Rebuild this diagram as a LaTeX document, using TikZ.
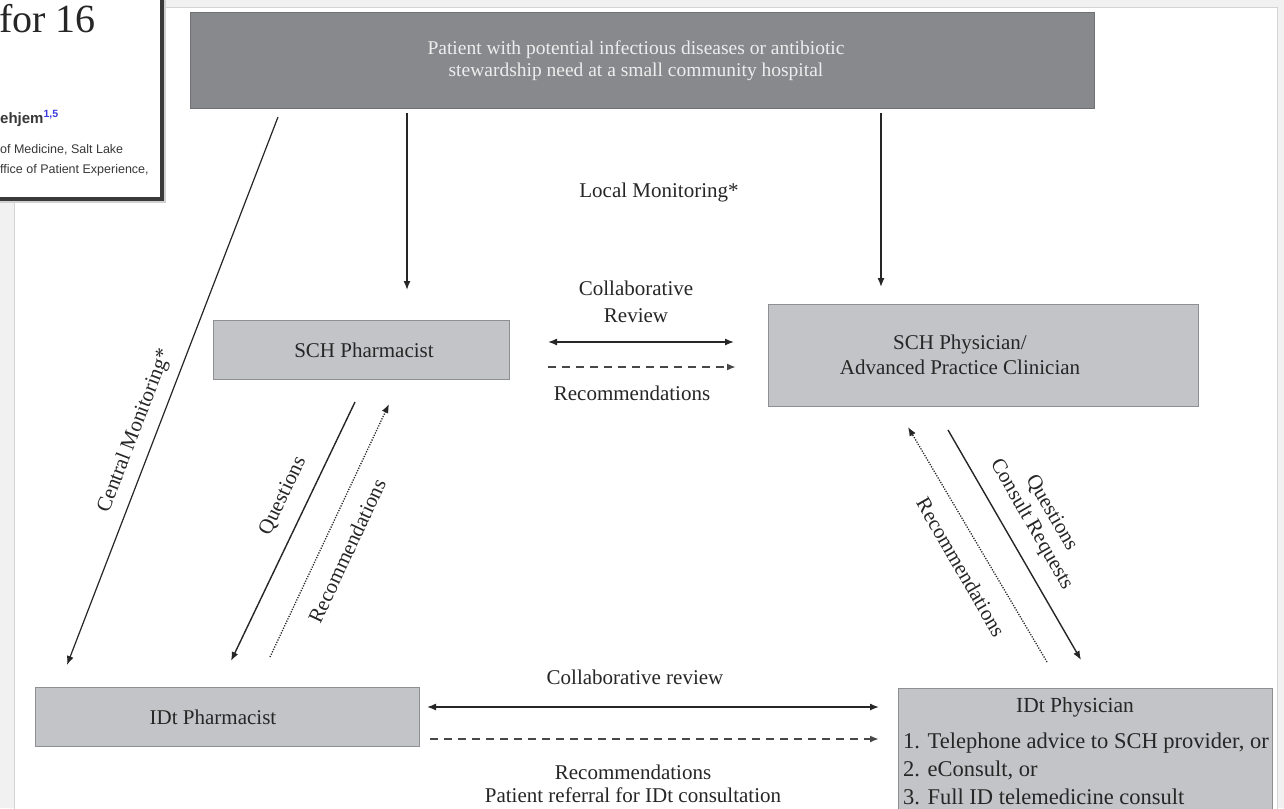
\documentclass[tikz,border=0pt]{standalone}
\usepackage{fontspec}
\setmainfont{Liberation Serif}
\setsansfont{Liberation Sans}
\usetikzlibrary{arrows.meta}
\definecolor{ink}{HTML}{262626}
\definecolor{darkbox}{HTML}{88898D}
\definecolor{darkedge}{HTML}{707175}
\definecolor{toptxt}{HTML}{EDEDED}
\definecolor{lightbox}{HTML}{C3C4C7}
\definecolor{boxedge}{HTML}{8E8F92}
\definecolor{pageout}{HTML}{F1F1F1}
\definecolor{pageedge}{HTML}{D4D4D4}
\definecolor{popedge}{HTML}{3A3A3A}
\definecolor{poptxt}{HTML}{383838}
\definecolor{supblue}{HTML}{3B3BE0}
\begin{document}
\begin{tikzpicture}[x=1pt,y=-1pt,
  txt/.style={font=\fontsize{21}{26}\selectfont, text=ink, inner sep=0pt, align=center},
  graybox/.style={draw=boxedge, line width=1pt, fill=lightbox, inner sep=0pt},
  tip/.tip={Latex[length=9pt,width=7pt]},
  arr/.style={draw=ink, line width=1.4pt, -tip},
  darr/.style={draw=ink, line width=1.4pt, tip-tip},
  dotarr/.style={draw=ink, line width=1.3pt, dash pattern=on 1.2pt off 1.4pt, -tip},
  dasharr/.style={draw=ink!85, line width=2pt, dash pattern=on 8pt off 6pt, -tip},
  poptext/.style={anchor=base west, inner sep=0pt, text=poptxt},
]
\useasboundingbox (0,0) rectangle (1284,808);
\clip (0,0) rectangle (1284,808);
% page
\fill[pageout] (0,0) rectangle (1284,808);
\fill[white] (14,8) rectangle (1277,820);
\draw[pageedge, line width=1pt] (14,820) -- (14,8) -- (1277,8) -- (1277,820);

% top box
\node[draw=darkedge, fill=darkbox, anchor=north west, minimum width=904, minimum height=96, inner sep=0pt] (top) at (190,12) {};
\node[txt, text=toptxt, font=\fontsize{19.5}{22}\selectfont] (toptext) at (636,61) {Patient with potential infectious diseases or antibiotic\\stewardship need at a small community hospital};

% boxes
\node[graybox, anchor=north west, minimum width=296, minimum height=59] (sp) at (213,320) {};
\node[txt] (sptext) at (364,350) {SCH Pharmacist};
\node[graybox, anchor=north west, minimum width=430, minimum height=102] (sphy) at (768,304) {};
\node[txt, font=\fontsize{21}{25}\selectfont] (sphytext) at (960,355) {SCH Physician/\\Advanced Practice Clinician};
\node[graybox, anchor=north west, minimum width=384, minimum height=59] (ip) at (35,687) {};
\node[txt] (iptext) at (213,717) {IDt Pharmacist};
\node[graybox, anchor=north west, minimum width=374, minimum height=140] (iphy) at (898,688) {};
\node[txt, font=\fontsize{21.5}{26}\selectfont] (iphytitle) at (1075,707) {IDt Physician};
\node[txt, align=left, anchor=west, font=\fontsize{22.5}{28}\selectfont] (iphylist) at (903,769) {1. Telephone advice to SCH provider, or\\2. eConsult, or\\3. Full ID telemedicine consult};

% labels
\node[txt] (local) at (659,192) {Local Monitoring*};
\node[txt, font=\fontsize{21}{27}\selectfont] (collab1) at (636,302) {Collaborative\\Review};
\node[txt] (rec1) at (632,393) {Recommendations};
\node[txt] (collab2) at (635,677) {Collaborative review};
\node[txt, font=\fontsize{21}{23}\selectfont] (rec2) at (633,784) {Recommendations\\Patient referral for IDt consultation};
\node[txt, rotate=69] (central) at (135,431) {Central Monitoring*};
\node[txt, rotate=64.5] (qleft) at (283,496) {Questions};
\node[txt, rotate=65] (rleft) at (347,551) {Recommendations};
\node[txt, rotate=-60, font=\fontsize{21}{23}\selectfont] (qright) at (1041,519) {Questions\\Consult Requests};
\node[txt, rotate=-60] (rright) at (961,567) {Recommendations};

% connector end points
\coordinate (a1s) at (407,113); \coordinate (a1e) at (407,290);
\coordinate (a2s) at (881,113); \coordinate (a2e) at (881,287);
\coordinate (cms) at (278,117); \coordinate (cme) at (67,665);
\coordinate (qls) at (355,402); \coordinate (qle) at (231,661);
\coordinate (rls) at (270,657); \coordinate (rle) at (389,404);
\coordinate (rrs) at (1047,662); \coordinate (rre) at (908,427);
\coordinate (qrs) at (948,430); \coordinate (qre) at (1081,660);
\coordinate (c1s) at (548,342); \coordinate (c1e) at (734,342);
\coordinate (d1s) at (548,367); \coordinate (d1e) at (736,367);
\coordinate (c2s) at (427,707); \coordinate (c2e) at (879,707);
\coordinate (d2s) at (430,739); \coordinate (d2e) at (879,739);

% connectors
\draw[arr] (a1s) -- (a1e);
\draw[arr] (a2s) -- (a2e);
\draw[arr, line width=1.2pt] (cms) -- (cme);
\draw[arr] (qls) -- (qle);
\draw[dotarr] (rls) -- (rle);
\draw[dotarr] (rrs) -- (rre);
\draw[arr] (qrs) -- (qre);
\draw[darr] (c1s) -- (c1e);
\draw[dasharr] (d1s) -- (d1e);
\draw[darr] (c2s) -- (c2e);
\draw[dasharr] (d2s) -- (d2e);

% overlay panel
\fill[black!18] (-10,-10) rectangle (166,203);
\draw[popedge, line width=4pt, fill=white] (-10,-10) rectangle (162,199);
\node[poptext, font=\fontsize{40}{42}\selectfont, text=ink] (popt) at (-1,33) {for 16};
\node[poptext, font=\sffamily\bfseries\fontsize{15}{17}\selectfont] (pname) at (0,123) {ehjem\textsuperscript{\textcolor{supblue}{1,5}}};
\node[poptext, font=\sffamily\fontsize{12.5}{14}\selectfont] (paff1) at (0,153) {of Medicine, Salt Lake};
\node[poptext, font=\sffamily\fontsize{12.5}{14}\selectfont] (paff2) at (0,173) {ffice of Patient Experience,};
\end{tikzpicture}
\end{document}
